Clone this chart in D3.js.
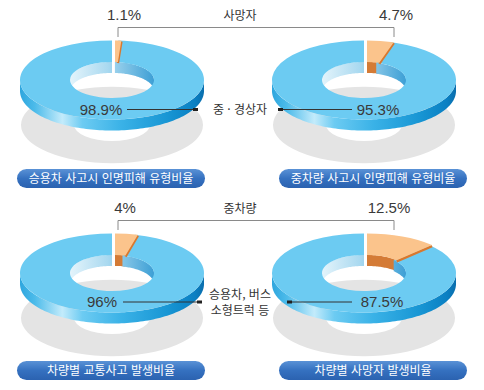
<!DOCTYPE html>
<html lang="ko">
<head>
<meta charset="UTF-8">
<title>인명피해 유형비율</title>
<style>
  * { margin: 0; padding: 0; }
  body { background: #fff; width: 484px; height: 390px; overflow: hidden; }
  text { font-family: "Noto Sans CJK KR", "Noto Sans", sans-serif; }
  .num { font-family: "Liberation Sans", Arial, sans-serif; font-size: 15px; fill: #3a3a3a; }
  .lab { font-size: 12px; fill: #333; }
  .ttl { font-size: 12px; fill: #fff; }
</style>
</head>
<body>
<div id="chart"></div>
<script src="https://d3js.org/d3.v7.min.js"></script>
<script>
  // data
  const titles = ["승용차 사고시 인명피해 유형비율", "중차량 사고시 인명피해 유형비율", "차량별 교통사고 발생비율", "차량별 사망자 발생비율"];
  const smallShare = [1.1, 4.7, 4, 12.5];
  const largeShare = [98.9, 95.3, 96, 87.5];
  const smallNames = ["사망자", "중차량"];
  const largeNames = [["중 · 경상자"], ["승용차, 버스", "소형트럭 등"]];

  const W = 484, H = 390;
  const colX = [112, 364];
  const rowY = [80, 273];
  const titleX = [111, 373];
  const ROUT = 92, RIN = 42, KY = 0.43, DEPTH = 11, SHIFT = 3;
  const TAU = Math.PI * 2;

  const svg = d3.select("#chart").append("svg").attr("width", W).attr("height", H);
  const defs = svg.append("defs");

  const pill = defs.append("linearGradient").attr("id", "pill").attr("x1", 0).attr("y1", 0).attr("x2", 0).attr("y2", 1);
  pill.append("stop").attr("offset", 0).attr("stop-color", "#5a92d6");
  pill.append("stop").attr("offset", 0.5).attr("stop-color", "#3571c0");
  pill.append("stop").attr("offset", 1).attr("stop-color", "#2b62b0");

  const P = (cx, cy, a, r, dz) => [cx + r * Math.sin(a), cy - r * Math.cos(a) * KY + dz];

  function band(cx, cy, r, a0, a1) {
    const n = Math.max(2, Math.ceil((a1 - a0) / 0.03));
    const angles = d3.range(n + 1).map(i => a0 + (a1 - a0) * i / n);
    const top = angles.map(a => P(cx, cy, a, r, 0));
    const bot = angles.slice().reverse().map(a => P(cx, cy, a, r, DEPTH));
    return d3.line()(top.concat(bot)) + "Z";
  }

  function clip(a0, a1, lo, hi) {
    const s = Math.max(a0, lo), e = Math.min(a1, hi);
    return s < e ? [s, e] : null;
  }

  const pie = d3.pie().sort(null).value(d => d);
  const arc = d3.arc().innerRadius(RIN).outerRadius(ROUT);
  const shadowArc = d3.arc().innerRadius(38).outerRadius(91);

  titles.forEach((title, i) => {
    const cx = colX[i % 2], cy = rowY[Math.floor(i / 2)];
    const slices = pie([smallShare[i], largeShare[i]]);
    const g = svg.append("g");

    // gradients for walls
    const og = defs.append("linearGradient").attr("id", "out" + i).attr("gradientUnits", "userSpaceOnUse")
      .attr("x1", cx - ROUT).attr("x2", cx + ROUT).attr("y1", 0).attr("y2", 0);
    [[0, "#2ea6de"], [0.08, "#4cbbea"], [0.23, "#c3ebfb"], [0.34, "#6ccbf2"], [0.55, "#3ab2e7"],
     [0.8, "#1896d4"], [0.95, "#0b80c3"], [1, "#0a6ead"]]
      .forEach(s => og.append("stop").attr("offset", s[0]).attr("stop-color", s[1]));
    const ig = defs.append("linearGradient").attr("id", "in" + i).attr("gradientUnits", "userSpaceOnUse")
      .attr("x1", cx - RIN).attr("x2", cx + RIN).attr("y1", 0).attr("y2", 0);
    [[0, "#e4f4fb"], [0.45, "#a9d9f0"], [1, "#3d9fd5"]]
      .forEach(s => ig.append("stop").attr("offset", s[0]).attr("stop-color", s[1]));

    // shadow
    g.append("path").attr("d", shadowArc({ startAngle: 0, endAngle: TAU }))
      .attr("transform", `translate(${cx},${cy + 45}) scale(1,0.42)`)
      .attr("fill", "#e4e4e4");

    // inner walls (back half of the hole)
    slices.forEach((s, k) => {
      const dx = k === 0 ? SHIFT : 0;
      [clip(s.startAngle, s.endAngle, 0, Math.PI / 2), clip(s.startAngle, s.endAngle, 1.5 * Math.PI, TAU)]
        .filter(Boolean).forEach(r => {
          g.append("path").attr("d", band(cx + dx, cy, RIN, r[0], r[1]))
            .attr("fill", k === 0 ? "#d47b36" : `url(#in${i})`);
        });
    });

    // outer walls (front half)
    slices.forEach((s, k) => {
      const r = clip(s.startAngle, s.endAngle, Math.PI / 2, 1.5 * Math.PI);
      if (r) g.append("path").attr("d", band(cx + (k === 0 ? SHIFT : 0), cy, ROUT, r[0], r[1]))
        .attr("fill", k === 0 ? "#d47b36" : `url(#out${i})`);
    });

    // top faces: big slice then the pulled-out small slice
    g.append("path").attr("d", arc(slices[1]))
      .attr("transform", `translate(${cx},${cy}) scale(1,${KY})`).attr("fill", "#6ccbf2");
    const a1 = slices[0].endAngle;
    const e0 = P(cx + SHIFT, cy, a1, RIN, 1), e1 = P(cx + SHIFT, cy, a1, ROUT, 1);
    g.append("line").attr("x1", e0[0]).attr("y1", e0[1]).attr("x2", e1[0]).attr("y2", e1[1])
      .attr("stroke", "#d9782e").attr("stroke-width", 2.5);
    g.append("path").attr("d", arc(slices[0]))
      .attr("transform", `translate(${cx + SHIFT},${cy}) scale(1,${KY})`).attr("fill", "#fbc48c");

    // title pill
    const ty = rowY[Math.floor(i / 2)] + 98.5 - (i >= 2 ? 1 : 0);
    g.append("rect").attr("x", titleX[i % 2] - 94).attr("y", ty - 9.5).attr("width", 188).attr("height", 19)
      .attr("rx", 9.5).attr("fill", "url(#pill)");
    g.append("text").attr("class", "ttl").attr("x", titleX[i % 2]).attr("y", ty + 4.3)
      .attr("text-anchor", "middle").text(title);
  });

  // labels per row
  [0, 1].forEach(row => {
    const cy = rowY[row];
    const top = cy - 60;
    const left = row * 2, right = row * 2 + 1;
    const fmt = v => v + "%";
    const lg = svg.append("g");

    // small-share labels with bracket
    lg.append("text").attr("class", "num").attr("x", row ? 125 : 124).attr("y", top).attr("text-anchor", "middle")
      .text(fmt(smallShare[left]));
    lg.append("text").attr("class", "num").attr("x", row ? 389 : 396).attr("y", top).attr("text-anchor", "middle")
      .text(fmt(smallShare[right]));
    lg.append("text").attr("class", "lab").attr("x", 240).attr("y", top - 0.5).attr("text-anchor", "middle")
      .text(smallNames[row]);
    lg.append("path").attr("d", `M118,${top + 17} V${top + 7.5} H394 V${top + 17}`)
      .attr("fill", "none").attr("stroke", "#8a8a8a").attr("stroke-width", 1);

    // large-share labels with leader lines
    const my = cy + (row ? 29 : 29.5);
    lg.append("text").attr("class", "num").attr("x", row ? 102 : 101).attr("y", my + 5).attr("text-anchor", "middle")
      .text(fmt(largeShare[left]));
    lg.append("text").attr("class", "num").attr("x", row ? 382 : 378).attr("y", my + 5).attr("text-anchor", "middle")
      .text(fmt(largeShare[right]));
    const l1 = row ? [123, 202] : [127, 198];
    const l2 = row ? [287, 352] : [278, 352];
    lg.append("line").attr("x1", l1[0]).attr("x2", l1[1]).attr("y1", my).attr("y2", my).attr("stroke", "#333");
    lg.append("line").attr("x1", l2[0]).attr("x2", l2[1]).attr("y1", my).attr("y2", my).attr("stroke", "#333");
    lg.append("rect").attr("x", l1[1] - 5).attr("y", my - 1.5).attr("width", 5).attr("height", 3).attr("fill", "#222");
    lg.append("rect").attr("x", l2[0]).attr("y", my - 1.5).attr("width", 5).attr("height", 3).attr("fill", "#222");
    const names = largeNames[row];
    names.forEach((t, j) => {
      lg.append("text").attr("class", "lab").attr("x", 240)
        .attr("y", my + 4.5 + (j - (names.length - 1) / 2) * 16).attr("text-anchor", "middle").text(t);
    });
  });
</script>
</body>
</html>
